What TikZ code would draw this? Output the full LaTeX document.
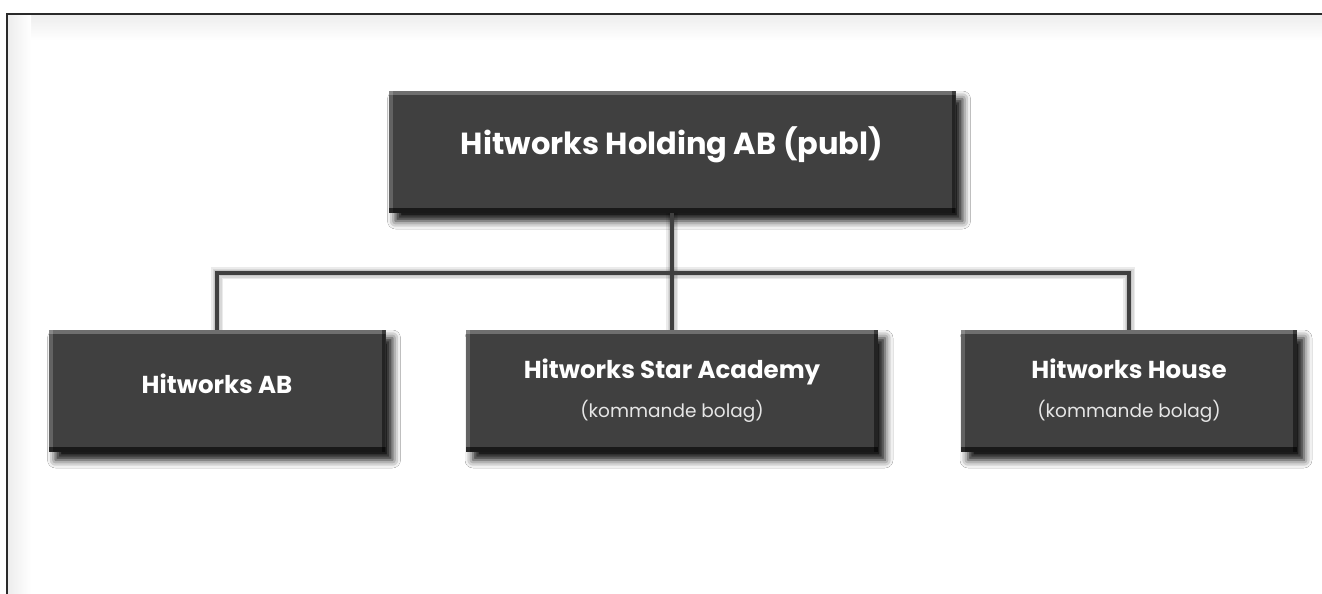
\documentclass[tikz,border=0pt]{standalone}
\usepackage{fontspec}
\setmainfont{Poppins}
\usetikzlibrary{shadows.blur}

\definecolor{boxgray}{HTML}{404040}
\definecolor{framegray}{HTML}{2A2A2A}
\definecolor{subwhite}{HTML}{E6E6E6}

\newcommand\subtext[1]{{\mdseries\color{subwhite}\fontsize{18.5}{22}\selectfont #1}}

\tikzset{
  unitbox/.style={fill=boxgray, text=white, align=center, inner sep=0pt,
    font=\bfseries\fontsize{24.5}{28}\selectfont,
    minimum height=122pt,
    blur shadow={shadow xshift=7pt, shadow yshift=-8pt,
      shadow blur radius=8pt, shadow opacity=95},
    path picture={
      \fill[white,opacity=.25] (path picture bounding box.north west)
        rectangle ([yshift=-4pt]path picture bounding box.north east);
      \fill[white,opacity=.18] (path picture bounding box.north west)
        rectangle ([xshift=4pt]path picture bounding box.south west);
      \fill[black,opacity=.6] (path picture bounding box.south west)
        rectangle ([yshift=5pt]path picture bounding box.south east);
      \fill[black,opacity=.45] (path picture bounding box.north east)
        rectangle ([xshift=-4pt]path picture bounding box.south east);
    }},
  topbox/.style={unitbox, font=\bfseries\fontsize{30.5}{34}\selectfont,
    text depth=22pt},
  linkline/.style={draw=boxgray, line width=4.5pt},
  linkshadow/.style={draw=black, line width=#1, opacity=.08,
    xshift=3pt, yshift=-5pt},
}

\begin{document}
\begin{tikzpicture}[x=1pt,y=-1pt]
\useasboundingbox (0,0) rectangle (1322,594);
\fill[white] (0,0) rectangle (1322,594);
% frame with its inner glow
\shade[top color=gray!14, bottom color=white] (8,15) rectangle (1322,40);
\shade[left color=gray!14, right color=white] (8,15) rectangle (31,594);
\draw[framegray, line width=2pt] (7,594) -- (7,14) -- (1322,14);

% units
\node[topbox, minimum width=567pt] (holding) at (672,152)
  {Hitworks Holding AB (publ)};
\node[unitbox, minimum width=337pt, text depth=14pt] (ab) at (217,391)
  {Hitworks AB};
\node[unitbox, minimum width=412pt] (academy) at (672,391)
  {Hitworks Star Academy\\[11pt]\subtext{(kommande bolag)}};
\node[unitbox, minimum width=336pt] (house) at (1129,391)
  {Hitworks House\\[11pt]\subtext{(kommande bolag)}};

\coordinate (hub) at (672,273);

% connectors
\foreach \w in {12pt,9pt,6pt}{
  \draw[linkshadow=\w] (ab.north) |- (hub) -| (house.north);
  \draw[linkshadow=\w] (holding.south) -- (academy.north);
}
\draw[linkline] (ab.north) |- (hub) -| (house.north);
\draw[linkline] (holding.south) -- (academy.north);

\end{tikzpicture}
\end{document}
